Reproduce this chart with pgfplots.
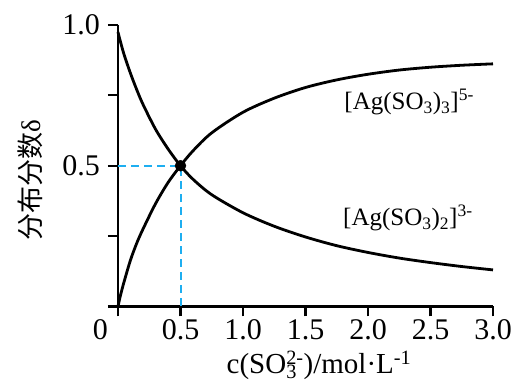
\documentclass[border=0pt]{standalone}
\usepackage{pgfplots}
\pgfplotsset{compat=1.18}
\usepackage{fontspec}
\setmainfont{Liberation Serif}
\newfontfamily\cjk{Noto Sans CJK SC}
\definecolor{dashblue}{RGB}{30,174,240}
\begin{document}
\begin{tikzpicture}[x=1pt,y=1pt]
\useasboundingbox (0,0) rectangle (519,387);
\begin{axis}[
  at={(118pt,80.5pt)}, anchor=origin,
  scale only axis, width=375pt, height=281.5pt,
  xmin=0, xmax=3, ymin=0, ymax=1,
  axis x line*=bottom, axis y line*=left,
  axis line style={line width=2.2pt},
  every tick/.style={line width=2.2pt, black},
  major tick length=10pt,
  tick align=outside,
  xtick={0,0.5,1,1.5,2,2.5,3},
  xticklabels={\makebox[0pt][r]{0\hspace{10pt}},0.5,1.0,1.5,2.0,2.5,3.0},
  ytick={0,0.25,0.5,0.75,1},
  yticklabels={,,0.5,,1.0},
  tick label style={font=\fontsize{30}{32}\selectfont},
  xticklabel style={inner sep=1pt, yshift=-2pt},
  yticklabel style={inner sep=2pt, xshift=-6pt},
  /pgf/number format/assume math mode=true,
  xlabel={c(SO\rlap{\textsubscript{3}}\textsuperscript{2-})/mol·L\textsuperscript{-1}},
  xlabel style={font=\fontsize{29}{31}\selectfont, at={(axis description cs:0.536,-0.21)}, anchor=center},
  ylabel={\cjk 分布分数}δ,
  ylabel style={font=\fontsize{27}{30}\selectfont, at={(axis description cs:-0.235,0.448)}, anchor=center, rotate=0},
  clip=false,
]
\addplot[dashblue, line width=2pt, dash pattern=on 8pt off 5pt] coordinates {(0,0.5) (0.5,0.5) (0.5,0)};
\addplot[black, line width=2.8pt, smooth] coordinates {
(0,0) (0.02,0.04) (0.05,0.09) (0.1,0.165) (0.15,0.225) (0.2,0.275) (0.3,0.365) (0.4,0.44) (0.5,0.5) (0.6,0.553) (0.75,0.617) (1.0,0.69) (1.25,0.74) (1.5,0.778) (1.75,0.805) (2.0,0.825) (2.25,0.84) (2.5,0.85) (2.75,0.857) (3.0,0.862)};
\addplot[black, line width=2.8pt, smooth] coordinates {
(0,0.975) (0.02,0.94) (0.05,0.893) (0.1,0.828) (0.15,0.77) (0.2,0.718) (0.3,0.63) (0.4,0.56) (0.5,0.5) (0.6,0.452) (0.75,0.397) (1.0,0.333) (1.25,0.285) (1.5,0.247) (1.75,0.216) (2.0,0.192) (2.25,0.172) (2.5,0.156) (2.75,0.142) (3.0,0.13)};
\addplot[black, only marks, mark=*, mark size=5.5pt] coordinates {(0.5,0.5)};
\node[anchor=west, font=\fontsize{25}{28}\selectfont, inner sep=0pt] at (axis cs:1.81,0.725) {[Ag(SO\textsubscript{3})\textsubscript{3}]\textsuperscript{5-}};
\node[anchor=west, font=\fontsize{25}{28}\selectfont, inner sep=0pt] at (axis cs:1.80,0.315) {[Ag(SO\textsubscript{3})\textsubscript{2}]\textsuperscript{3-}};
\end{axis}
\end{tikzpicture}
\end{document}
